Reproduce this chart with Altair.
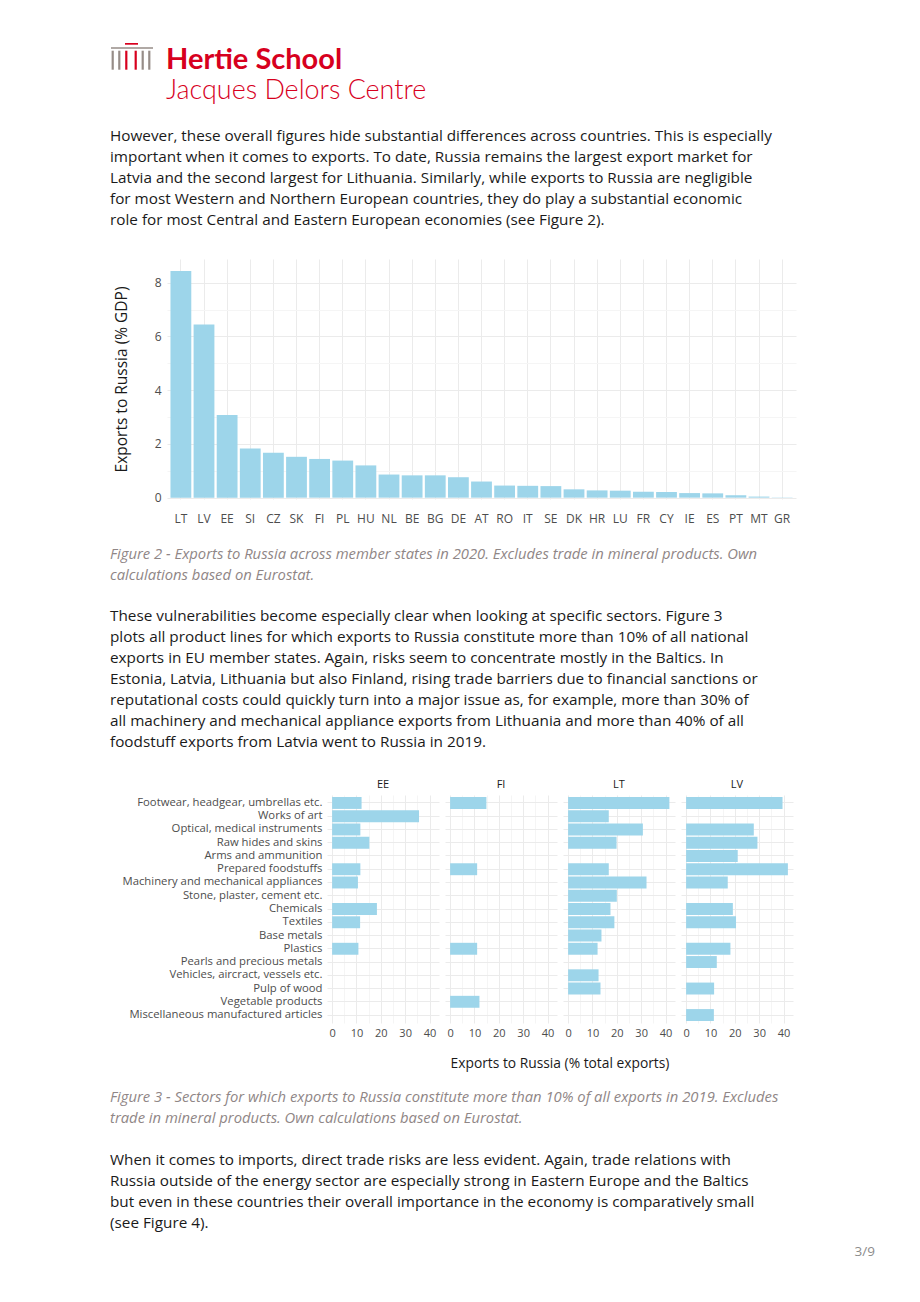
import altair as alt
import pandas as pd

# ---------------- data ----------------
countries1 = ["LT", "LV", "EE", "SI", "CZ", "SK", "FI", "PL", "HU", "NL", "BE", "BG", "DE", "AT",
              "RO", "IT", "SE", "DK", "HR", "LU", "FR", "CY", "IE", "ES", "PT", "MT", "GR"]
exports_gdp = [8.43, 6.44, 3.08, 1.83, 1.67, 1.52, 1.44, 1.38, 1.20, 0.86, 0.83, 0.83, 0.76, 0.60,
               0.45, 0.44, 0.43, 0.31, 0.27, 0.26, 0.22, 0.21, 0.17, 0.16, 0.09, 0.04, 0.01]

sectors = ["Footwear, headgear, umbrellas etc.", "Works of art", "Optical, medical instruments",
           "Raw hides and skins", "Arms and ammunition", "Prepared foodstuffs",
           "Machinery and mechanical appliances", "Stone, plaster, cement etc.", "Chemicals",
           "Textiles", "Base metals", "Plastics", "Pearls and precious metals",
           "Vehicles, aircract, vessels etc.", "Pulp of wood", "Vegetable products",
           "Miscellaneous manufactured articles"]
countries2 = ["EE", "FI", "LT", "LV"]
share_ee = [12.1, 35.7, 11.6, 15.3, None, 11.6, 10.6, None, 18.4, 11.5, None, 10.8, None, None, None, None, None]
share_fi = [14.9, None, None, None, None, 11.1, None, None, None, None, None, 11.1, None, None, None, 12.05, None]
share_lt = [41.6, 16.7, 30.7, 19.9, None, 16.7, 32.2, 20.0, 17.4, 19.0, 13.7, 12.1, None, 12.5, 13.3, None, None]
share_lv = [39.6, None, 27.8, 29.3, 21.2, 41.8, 17.1, None, 19.2, 20.5, None, 18.2, 12.6, None, 11.5, None, 11.4]

ticks1 = [0, 1, 2, 3, 4, 5, 6, 7, 8]
ticks2 = [0, 5, 10, 15, 20, 25, 30, 35, 40]

para1 = [
    "However, these overall figures hide substantial differences across countries. This is especially",
    "important when it comes to exports. To date, Russia remains the largest export market for",
    "Latvia and the second largest for Lithuania. Similarly, while exports to Russia are negligible",
    "for most Western and Northern European countries, they do play a substantial economic",
    "role for most Central and Eastern European economies (see Figure 2).",
]
caption2 = [
    "Figure 2 - Exports to Russia across member states in 2020. Excludes trade in mineral products. Own",
    "calculations based on Eurostat.",
]
para2 = [
    "These vulnerabilities become especially clear when looking at specific sectors. Figure 3",
    "plots all product lines for which exports to Russia constitute more than 10% of all national",
    "exports in EU member states. Again, risks seem to concentrate mostly in the Baltics.  In",
    "Estonia, Latvia, Lithuania but also Finland, rising trade barriers due to financial sanctions or",
    "reputational costs could quickly turn into a major issue as, for example, more than 30% of",
    "all machinery and mechanical appliance exports from Lithuania and more than 40% of all",
    "foodstuff exports from Latvia went to Russia in 2019.",
]
caption3 = [
    "Figure 3 - Sectors for which exports to Russia constitute more than 10% of all exports in 2019. Excludes",
    "trade in mineral products. Own calculations based on Eurostat.",
]
para3 = [
    "When it comes to imports, direct trade risks are less evident. Again, trade relations with",
    "Russia outside of the energy sector are especially strong in Eastern Europe and the Baltics",
    "but even in these countries their overall importance in the economy is comparatively small",
    "(see Figure 4).",
]
page_label = "3/9"

# logo pieces (pixel geometry of the brand mark)
logo_x1 = [15, 1, 1.6, 8.2, 15.2, 24.6, 31.6, 38.2]
logo_x2 = [28, 43, 3.8, 10.4, 17.4, 26.8, 33.8, 40.4]
logo_y1 = [0, 4.3, 7.7, 7.7, 7.7, 7.7, 7.7, 7.7]
logo_y2 = [1.7, 5.8, 26.7, 26.7, 26.7, 26.7, 26.7, 26.7]
logo_col = ["#d7001e", "#968c87", "#968c87", "#968c87", "#d7001e", "#d7001e", "#968c87", "#968c87"]

# ---------------- styles ----------------
FONT = "Open Sans"
HEAD = "Lato"
BAR = "#9dd5ea"
GRID = "#ebebeb"
MINOR = "#f5f5f5"
INK = "#1a1a1a"
LAB = "#4d4d4d"
CAP = "#8f8686"
RED = "#d7001e"
BODY = 15.3

dummy = pd.DataFrame({"k": [0]})


def txt(lines, x, y, size=BODY, color=INK, style="normal", weight="normal", lh=21, align="left",
        font=FONT):
    return alt.Chart(dummy).mark_text(
        text=lines, x=x, y=y, fontSize=size, color=color, fontStyle=style,
        fontWeight=weight, lineHeight=lh, align=align, baseline="alphabetic", font=font,
    )


def spacer(w):
    return alt.Chart(dummy).mark_text(text="").properties(width=w, height=1)


# ---------------- row 0 : header + paragraph 1 ----------------
logo_df = pd.DataFrame({"x1": logo_x1, "x2": logo_x2, "y1": logo_y1, "y2": logo_y2, "c": logo_col})
logo = alt.Chart(logo_df).mark_rect().encode(
    x=alt.X("x1:Q", scale=None, axis=None), x2="x2",
    y=alt.Y("y1:Q", scale=None, axis=None), y2="y2",
    color=alt.Color("c:N", scale=None),
)
row0 = alt.layer(
    logo,
    txt("Hertie School", 56, 26, size=29, color=RED, weight="bold", font=HEAD),
    txt("Jacques Delors Centre", 56, 56, size=26.9, color=RED, weight=300, font=HEAD),
    txt(para1, 0, 98),
).properties(width=691, height=210)

# ---------------- row 1 : figure 2 ----------------
df1 = pd.DataFrame({"country": countries1, "gdp": exports_gdp})
chart1 = alt.Chart(df1).mark_bar(color=BAR).encode(
    x=alt.X("country:N", sort=countries1,
            scale=alt.Scale(domain=countries1, paddingInner=0.1, paddingOuter=0.15),
            axis=alt.Axis(title=None, labelAngle=0, bandPosition=0.5, ticks=False, domain=False,
                          grid=True, gridColor=GRID, labelPadding=14, labelFontSize=12,
                          labelColor=LAB)),
    y=alt.Y("gdp:Q", scale=alt.Scale(domain=[-0.05, 8.88], nice=False, zero=False),
            axis=alt.Axis(values=ticks1, labelExpr="datum.value % 2 ? '' : datum.label",
                          gridColor={"condition": {"test": "datum.value % 2 != 0", "value": MINOR},
                                     "value": GRID},
                          ticks=False, domain=False, labelPadding=6, labelFontSize=12,
                          labelColor=LAB, title="Exports to Russia (% GDP)", titleFontSize=15.5,
                          titleFontWeight="normal", titleColor=INK, titlePadding=25)),
).properties(width=629, height=240)
row1 = alt.hconcat(spacer(1), chart1, spacing=3)

# ---------------- row 2 : caption 2 + paragraph 2 ----------------
row2 = alt.layer(
    txt(caption2, 0, 35, size=14.8, color=CAP, style="italic", lh=20.5),
    txt(para2, 0, 97),
).properties(width=691, height=255)

# ---------------- row 3 : figure 3 ----------------
recs = []
for c, vals in zip(countries2, [share_ee, share_fi, share_lt, share_lv]):
    for s, v in zip(sectors, vals):
        if v is not None:
            recs.append({"ctry": c, "sector": s, "share": v})
df2 = pd.DataFrame(recs)

base2 = alt.Chart(df2).mark_bar(color=BAR).encode(
    x=alt.X("share:Q", scale=alt.Scale(domain=[-2.1, 43.9], nice=False, zero=False),
            axis=alt.Axis(values=ticks2, labelExpr="datum.value % 10 ? '' : datum.label",
                          gridColor={"condition": {"test": "datum.value % 10 != 0", "value": MINOR},
                                     "value": GRID},
                          ticks=False, domain=False, labelPadding=4, labelFontSize=11,
                          labelColor=LAB, title=None)),
    y=alt.Y("sector:N", sort=sectors,
            scale=alt.Scale(domain=sectors, paddingInner=0.1, paddingOuter=0.15),
            axis=alt.Axis(title=None, bandPosition=0.5, ticks=False, domain=False, grid=True,
                          gridColor=GRID, labelPadding=5, labelFontSize=11.3, labelColor=LAB,
                          labelLimit=400)),
).properties(width=112, height=228)

chart2 = base2.facet(
    column=alt.Column("ctry:N", sort=countries2, title="Exports to Russia (% total exports)",
                      header=alt.Header(labelOrient="top", titleOrient="bottom", labelFontSize=11,
                                        labelColor=INK, labelPadding=5, labelFont=FONT,
                                        titleFont=FONT, titleFontSize=13.8, titleColor=INK,
                                        titleFontWeight="normal", titlePadding=9)),
    spacing=6,
)
row3 = alt.hconcat(spacer(1), chart2, spacing=11)

# ---------------- row 4 : caption 3 + paragraph 3 + page number ----------------
row4 = alt.layer(
    txt(caption3, 0, 31, size=14.8, color=CAP, style="italic", lh=20.5),
    txt(para3, 0, 94),
    txt(page_label, 765, 185, size=13.5, color="#8c8c8c", align="right"),
).properties(width=691, height=200)

chart = alt.vconcat(row0, row1, row2, row3, row4, spacing=0).properties(
    padding={"left": 102, "top": 35, "right": 0, "bottom": 0}
).configure(font=FONT).configure_view(stroke=None)

chart.save("out.html", embed_options={"renderer": "svg", "actions": False})
